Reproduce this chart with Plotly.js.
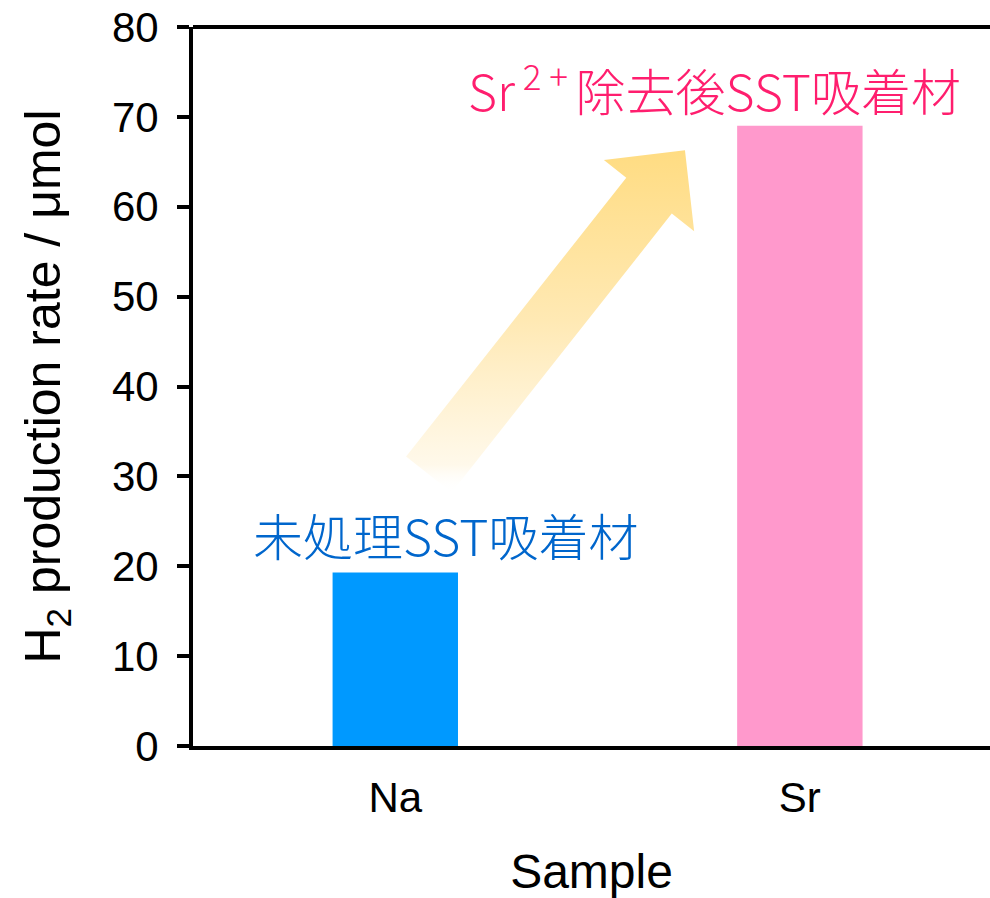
<!DOCTYPE html>
<html>
<head>
<meta charset="utf-8">
<script src="https://cdn.plot.ly/plotly-3.0.1.min.js"></script>
<style>
  html, body { margin: 0; padding: 0; background: #fff; }
  #chart { width: 990px; height: 898px; }
</style>
</head>
<body>
<div id="chart"></div>
<script>
// Sample categories and measured H2 production
const categories = ['Na', 'Sr'];
const h2Rate = [19.3, 69.0];
const barColors = ['#0099FF', '#FF99CC'];
const yTickVals = [0, 10, 20, 30, 40, 50, 60, 70, 80];
const labelTexts = ['未処理SST吸着材', 'Sr<sup> 2 + </sup>除去後SST吸着材'];
const labelColors = ['#0066CC', '#FF1E6E'];

// Layout geometry
const W = 990, H = 898;
const M = { l: 193, r: 0, t: 27, b: 152 };
const xRange = [-0.5, 1.47];
const yRange = [0, 80];
const plotW = W - M.l - M.r;
const plotH = H - M.t - M.b;
const kx = plotW / (xRange[1] - xRange[0]);   // px per x unit
const ky = plotH / (yRange[1] - yRange[0]);   // px per y unit

const xIdx = categories.map((_, i) => i);

// Block arrow from the untreated bar towards the treated one
const arrowTail = [0.083, 30.2];
const arrowTip = [0.716, 66.3];
const shaftW = 58, headW = 115, headL = 58;

function arrowPolygon(tail, tip) {
  // work in screen pixels (y down) then map back to data units
  const tx = tail[0] * kx, ty = -tail[1] * ky;
  const px = tip[0] * kx, py = -tip[1] * ky;
  const dx = px - tx, dy = py - ty;
  const len = Math.hypot(dx, dy);
  const ux = dx / len, uy = dy / len;
  const nx = -uy, ny = ux;
  const bx = px - headL * ux, by = py - headL * uy;
  const pts = [
    [tx - nx * shaftW / 2, ty - ny * shaftW / 2],
    [bx - nx * shaftW / 2, by - ny * shaftW / 2],
    [bx - nx * headW / 2, by - ny * headW / 2],
    [px, py],
    [bx + nx * headW / 2, by + ny * headW / 2],
    [bx + nx * shaftW / 2, by + ny * shaftW / 2],
    [tx + nx * shaftW / 2, ty + ny * shaftW / 2],
    [tx - nx * shaftW / 2, ty - ny * shaftW / 2]
  ];
  return {
    x: pts.map(p => p[0] / kx),
    y: pts.map(p => -p[1] / ky)
  };
}

const arrow = arrowPolygon(arrowTail, arrowTip);

const traces = [
  {
    type: 'scatter',
    x: arrow.x,
    y: arrow.y,
    mode: 'lines',
    line: { width: 0 },
    fill: 'toself',
    fillgradient: {
      type: 'vertical',
      colorscale: [
        [0, 'rgba(255,255,255,0)'],
        [0.08, 'rgba(255,248,232,0.9)'],
        [0.5, 'rgb(255,233,180)'],
        [1, 'rgb(255,220,130)']
      ]
    },
    hoverinfo: 'skip',
    showlegend: false
  },
  {
    type: 'bar',
    x: xIdx,
    y: h2Rate,
    width: 0.31,
    marker: { color: barColors, line: { width: 0 } },
    hoverinfo: 'x+y',
    showlegend: false
  }
];

const baseFont = 'Arial, "Liberation Sans", Helvetica, sans-serif';
const cjkFont = '"Noto Sans CJK JP", "Noto Sans", sans-serif';

const layout = {
  width: W,
  height: H,
  margin: M,
  paper_bgcolor: '#fff',
  plot_bgcolor: '#fff',
  font: { family: baseFont, color: '#000' },
  showlegend: false,
  xaxis: {
    type: 'linear',
    range: xRange,
    tickvals: xIdx,
    ticktext: categories,
    ticks: '',
    showgrid: false,
    zeroline: false,
    showline: true,
    linecolor: '#000',
    linewidth: 4,
    tickfont: { size: 42, family: baseFont, color: '#000' },
    ticklabelstandoff: 12,
    title: { text: 'Sample', font: { size: 48, family: baseFont, color: '#000' }, standoff: 35 },
    fixedrange: true
  },
  yaxis: {
    range: yRange,
    tickvals: yTickVals,
    ticks: 'outside',
    ticklen: 12,
    tickwidth: 4,
    tickcolor: '#000',
    showgrid: false,
    zeroline: false,
    showline: true,
    linecolor: '#000',
    linewidth: 4,
    tickfont: { size: 42, family: baseFont, color: '#000' },
    ticklabelstandoff: 10,
    title: { text: 'H<sub>2</sub> production rate / μmol', font: { size: 50, family: baseFont, color: '#000' }, standoff: 36 },
    fixedrange: true
  },
  shapes: [
    { type: 'line', xref: 'paper', yref: 'paper', x0: 0, x1: 1, y0: 1, y1: 1,
      line: { color: '#000', width: 4 } }
  ],
  annotations: [
    { x: 0.123, y: 23.6, xref: 'x', yref: 'y', text: labelTexts[0], showarrow: false,
      font: { family: cjkFont, size: 50, weight: 300, color: labelColors[0] }, xanchor: 'center', yanchor: 'middle' },
    { x: 0.79, y: 73.3, xref: 'x', yref: 'y', text: labelTexts[1], showarrow: false,
      font: { family: cjkFont, size: 50, weight: 300, color: labelColors[1] }, xanchor: 'center', yanchor: 'middle' }
  ]
};

Plotly.newPlot('chart', traces, layout, { displayModeBar: false, staticPlot: true });
</script>
</body>
</html>
